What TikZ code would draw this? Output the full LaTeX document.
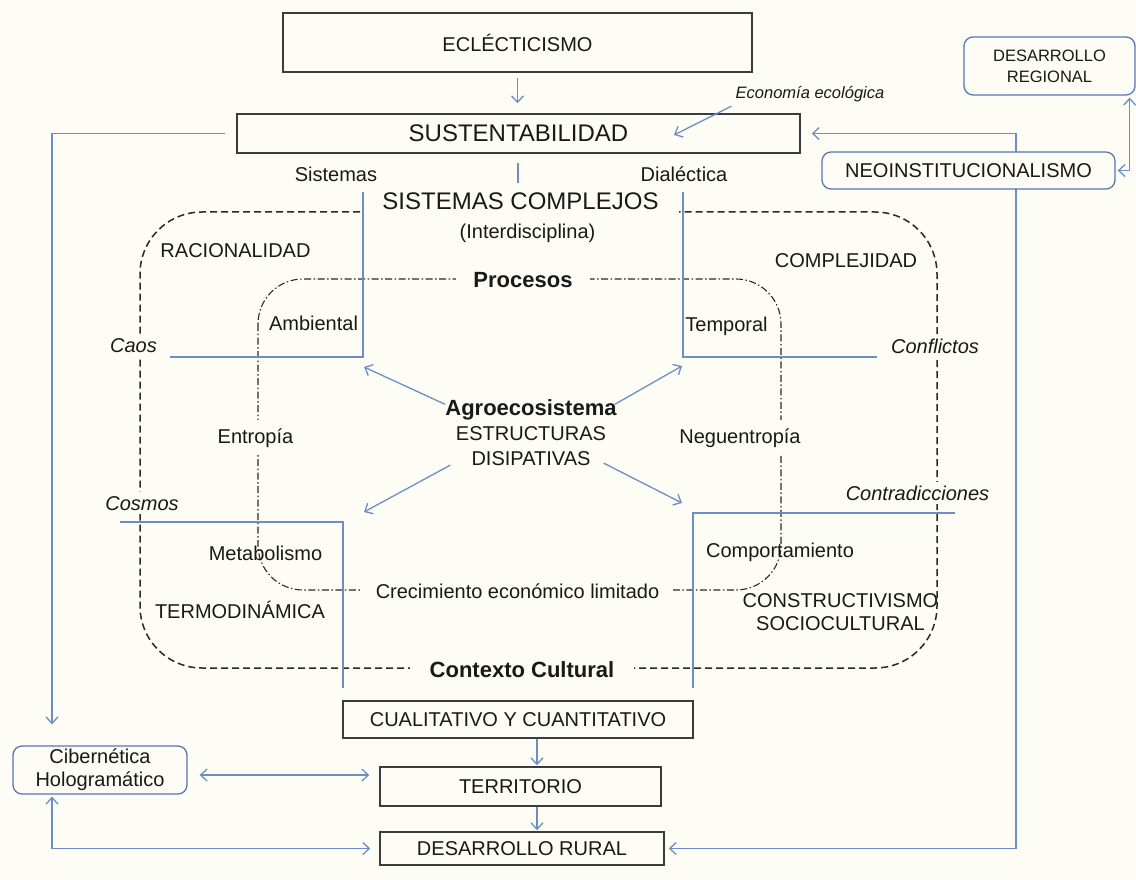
\documentclass[tikz,border=0pt]{standalone}
\usepackage{fontspec}
\setmainfont{Liberation Sans}
\usetikzlibrary{arrows.meta,calc,backgrounds}
\definecolor{bg}{RGB}{253,253,246}
\definecolor{blu}{RGB}{108,142,196}
\definecolor{bord}{RGB}{60,60,60}
\definecolor{rbord}{RGB}{88,118,176}
\definecolor{dsh}{RGB}{40,40,40}
\newcommand\szN{\fontsize{20}{23}\selectfont}
\newcommand\szS{\fontsize{16.5}{21}\selectfont}
\newcommand\szB{\fontsize{24}{28}\selectfont}
\newcommand\szH{\fontsize{22}{26}\selectfont\bfseries}
\begin{document}
\begin{tikzpicture}[x=1pt,y=-1pt,
  >={Straight Barb[length=6.5pt,width=12pt]},
  lbl/.style={anchor=base,inner sep=0pt,font=\szN,text=black!90},
  cover/.style={fill=bg},
  sqbox/.style={draw=bord,line width=1.5pt,inner sep=0pt,font=\szN,text=black!90},
  rbox/.style={draw=rbord,line width=1.3pt,rounded corners=9pt,fill=bg,inner sep=0pt,align=center,text=black!90},
  bl/.style={draw=blu,line width=1.3pt},
  arr/.style={bl,->},
  outerd/.style={draw=dsh,line width=1.5pt,dash pattern=on 7pt off 4pt},
  innerd/.style={draw=dsh,line width=1.1pt,dash pattern=on 7pt off 2.5pt on 1.5pt off 2.5pt},
]
\begin{scope}[on background layer]
\fill[bg] (0,0) rectangle (1136,880);
\end{scope}
\useasboundingbox (0,0) rectangle (1136,880);

% frames
\draw[outerd,rounded corners=62pt] (360,212) -- (140,212) -- (140,668) -- (937,668) -- (937,212) -- (679,212);
\draw[innerd,rounded corners=45pt] (258,279) rectangle (781,590);

% blue decorative lines
\draw[bl] (363,192) -- (363,357) -- (170,357);
\draw[bl] (683,192) -- (683,357) -- (877,357);
\draw[bl] (120,522) -- (343,522) -- (343,688);
\draw[bl] (955,513) -- (693,513) -- (693,688);
\draw[bl] (518,163) -- (518,183);

% boxes
\node[sqbox,minimum width=469pt,minimum height=59pt] (ecl) at (517.5,42.5) {ECLÉCTICISMO};
\node[sqbox,font=\szB,minimum width=563pt,minimum height=39pt] (sust) at (518.5,133.5) {SUSTENTABILIDAD};
\node[sqbox,minimum width=350pt,minimum height=37pt] (cual) at (518,719.5) {CUALITATIVO Y CUANTITATIVO};
\node[sqbox,minimum width=281pt,minimum height=39pt] (terr) at (520.5,786.5) {TERRITORIO};
\node[sqbox,minimum width=284pt,minimum height=33pt] (dr) at (522,848.5) {DESARROLLO RURAL};
\node[rbox,font=\szN,minimum width=174pt,minimum height=48pt] (ciber) at (100,770) {Cibernética\\Hologramático};
\node[rbox,font=\szN,minimum width=293pt,minimum height=37pt] (neo) at (968.5,170.5) {NEOINSTITUCIONALISMO};
\node[rbox,font=\szS,minimum width=171pt,minimum height=58pt] (dreg) at (1049.5,66) {DESARROLLO\\REGIONAL};

% labels
\node[lbl,font=\szS\itshape] (eco) at (810,99) {Economía ecológica};
\node[lbl] (sis) at (336,182) {Sistemas};
\node[lbl] (dia) at (684,182) {Dialéctica};
\node[lbl,font=\szB] (sc) at (520.5,210) {SISTEMAS COMPLEJOS};
\node[lbl] (inter) at (527.5,238) {(Interdisciplina)};
\node[lbl] (rac) at (235.5,258) {RACIONALIDAD};
\node[lbl] (comp) at (846,267) {COMPLEJIDAD};
\node[lbl,font=\szH,cover,inner xsep=17pt,inner ysep=4pt] (proc) at (523,287) {Procesos};
\node[lbl] (amb) at (313.5,330) {Ambiental};
\node[lbl] (tem) at (726.5,331) {Temporal};
\node[lbl,font=\szN\itshape,cover,inner sep=4pt] (caos) at (133.5,352) {Caos};
\node[lbl,font=\szN\itshape,cover,inner sep=4pt] (conf) at (935,353) {Conflictos};
\node[lbl,font=\szH] (agro) at (531,415) {Agroecosistema};
\node[lbl] (estr) at (531,440) {ESTRUCTURAS};
\node[lbl] (disi) at (531,465) {DISIPATIVAS};
\node[lbl,cover,inner ysep=8pt] (ent) at (255.5,443) {Entropía};
\node[lbl,cover,inner ysep=8pt] (neg) at (740,443) {Neguentropía};
\node[lbl,font=\szN\itshape,cover,inner sep=4pt] (cos) at (142,510) {Cosmos};
\node[lbl,font=\szN\itshape,cover,inner sep=4pt] (contr) at (917.5,500) {Contradicciones};
\node[lbl] (met) at (265.5,560) {Metabolismo};
\node[lbl] (comport) at (780,557) {Comportamiento};
\node[lbl,cover,inner xsep=14pt,inner ysep=4pt] (crec) at (517.5,598) {Crecimiento económico limitado};
\node[lbl] (termo) at (240,618) {TERMODINÁMICA};
\node[lbl] (cons) at (840.5,607) {CONSTRUCTIVISMO};
\node[lbl] (soc) at (840.5,630) {SOCIOCULTURAL};
\node[lbl,font=\szH,cover,inner xsep=20pt,inner ysep=4pt] (ctx) at (522,677) {Contexto Cultural};

% free arrow ends
\coordinate (ecotip) at (674,135);
\coordinate (t1) at (364,367);
\coordinate (t2) at (682,366);
\coordinate (t3) at (364,512);
\coordinate (t4) at (682,503);
\coordinate (rx) at (1016,500);

% connectors
\draw[arr] ([shift={(0,5)}]ecl.south) -- ($(ecl.south |- sust.north)+(0,-10)$);
\draw[arr] ([shift={(-4,3.5)}]eco.south west) -- (ecotip);
\draw[arr] ([shift={(-11,0)}]sust.west) -| ([shift={(-48,-21)}]ciber.north);
\draw[bl,<->] ([shift={(12,5)}]ciber.east) coordinate (c1) -- ($(terr.west |- c1)+(-10,0)$);
\draw[bl,<->] ([shift={(-48,2)}]ciber.south) |- ([shift={(-9,0)}]dr.west);
\draw[arr] ($(cual.south)+(19,0)$) -- ($(cual.south |- terr.north)+(19,-1)$);
\draw[arr] ($(cual.south |- terr.south)+(19,0)$) -- ($(cual.south |- dr.north)+(19,-1)$);
\draw[bl,<->] ([shift={(-6,2)}]dreg.south east) |- ([shift={(2,0)}]neo.east);
\begin{scope}[on background layer]
\draw[bl,<->] ([shift={(4,0)}]dr.east) -- (dr.east -| rx) -- (sust.east -| rx) -- ([shift={(11,0)}]sust.east);
\end{scope}

\draw[arr] ([shift={(0,-5)}]agro.west) -- (t1);
\draw[arr] ([shift={(-2,-5)}]agro.east) -- (t2);
\draw[arr] ([shift={(-21,7)}]disi.west) -- (t3);
\draw[arr] ([shift={(13,5)}]disi.east) -- (t4);
\end{tikzpicture}
\end{document}
